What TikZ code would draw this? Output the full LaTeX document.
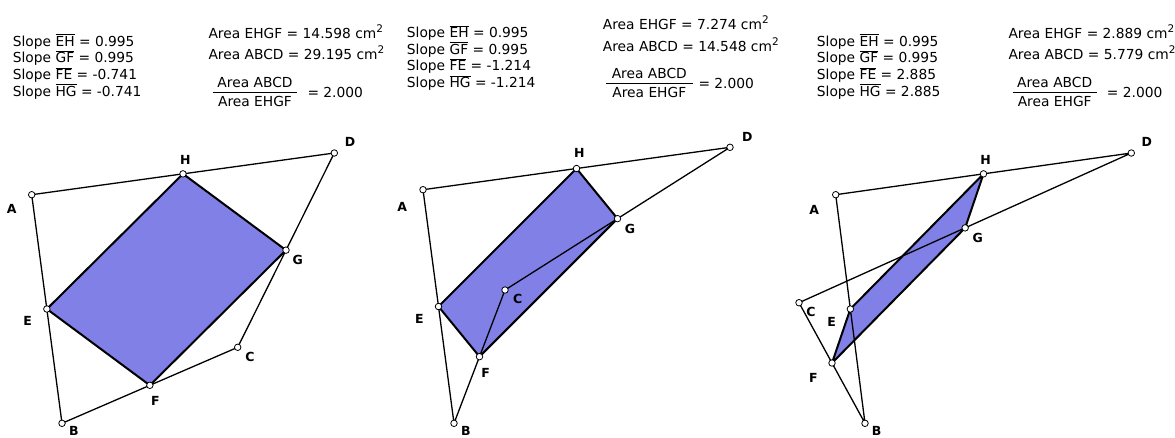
\documentclass[tikz,border=0pt]{standalone}
\usepackage{fontspec}
\setmainfont{DejaVu Sans}
\usetikzlibrary{calc}
\definecolor{pfillc}{RGB}{128,128,230}
\newcommand{\quadfig}[1]{%
  \coordinate (#1E) at ($(#1A)!0.5!(#1B)$);
  \coordinate (#1F) at ($(#1B)!0.5!(#1C)$);
  \coordinate (#1G) at ($(#1C)!0.5!(#1D)$);
  \coordinate (#1H) at ($(#1D)!0.5!(#1A)$);
  \fill[pfill] (#1E) -- (#1H) -- (#1G) -- (#1F) -- cycle;
  \draw[paraline] (#1E) -- (#1H) -- (#1G) -- (#1F) -- cycle;
  \draw[quadline] (#1A) -- (#1B) -- (#1C) -- (#1D) -- cycle;
  \foreach \p in {A,B,C,D,E,F,G,H}{\node[pt] (#1\p pt) at (#1\p) {};}
}
\newcommand{\sg}[1]{$\overline{\mbox{#1}}$}
\newcommand{\sqr}{\raisebox{0.42em}{\fontsize{10.5}{11}\selectfont 2}}
\begin{document}
\begin{tikzpicture}[x=1pt,y=-1pt,
 txt/.style={inner sep=0,anchor=base west,font=\fontsize{13.8}{16}\selectfont},
 ctxt/.style={inner sep=0,anchor=base,font=\fontsize{13.8}{16}\selectfont},
 lbl/.style={inner sep=0,font=\fontsize{12.5}{13}\selectfont\bfseries},
 pt/.style={circle,draw,fill=white,inner sep=0,minimum size=6.5pt,line width=0.8pt},
 quadline/.style={line width=1.3pt,line join=round},
 paraline/.style={line width=2pt,line join=round},
 pfill/.style={fill=pfillc},
 fbar/.style={line width=0.8pt}]
\useasboundingbox (0,0) rectangle (1175,437);

% ---------- figure 1 ----------
\coordinate (aA) at (31.7,194.7);
\coordinate (aB) at (62,423.3);
\coordinate (aC) at (237.7,347.3);
\coordinate (aD) at (334.3,153);
\quadfig{a}
\node[lbl] (aAl) at (11.7,209.3) {A};
\node[lbl] (aBl) at (74,430.5) {B};
\node[lbl] (aCl) at (250,356.7) {C};
\node[lbl] (aDl) at (350,142.3) {D};
\node[lbl] (aEl) at (27.7,321) {E};
\node[lbl] (aFl) at (155.3,401) {F};
\node[lbl] (aGl) at (297.7,260) {G};
\node[lbl] (aHl) at (185.3,160) {H};

% ---------- figure 2 ----------
\coordinate (bA) at (423,189.7);
\coordinate (bB) at (454,423.3);
\coordinate (bC) at (505,290);
\coordinate (bD) at (730,147.3);
\quadfig{b}
\node[lbl] (bAl) at (402.3,206.7) {A};
\node[lbl] (bBl) at (466,430.5) {B};
\node[lbl] (bCl) at (517.7,299.3) {C};
\node[lbl] (bDl) at (747.3,136.7) {D};
\node[lbl] (bEl) at (419.3,319) {E};
\node[lbl] (bFl) at (485.7,372.7) {F};
\node[lbl] (bGl) at (630,229) {G};
\node[lbl] (bHl) at (579.3,153.3) {H};

% ---------- figure 3 ----------
\coordinate (cA) at (835.7,194.7);
\coordinate (cB) at (865,423.3);
\coordinate (cC) at (799,302.7);
\coordinate (cD) at (1131.3,153);
\quadfig{c}
\node[lbl] (cAl) at (814.3,210) {A};
\node[lbl] (cBl) at (876.7,430.5) {B};
\node[lbl] (cCl) at (811,312.3) {C};
\node[lbl] (cDl) at (1146.7,142.3) {D};
\node[lbl] (cEl) at (831.7,321.7) {E};
\node[lbl] (cFl) at (813.3,378.3) {F};
\node[lbl] (cGl) at (977.7,237.7) {G};
\node[lbl] (cHl) at (985.7,160) {H};

% ---------- text block 1 ----------
\node[txt] (s1a) at (12.7,46) {Slope \sg{EH} = 0.995};
\node[txt] (s1b) at (12.7,62.7) {Slope \sg{GF} = 0.995};
\node[txt] (s1c) at (12.7,79.4) {Slope \sg{FE} = -0.741};
\node[txt] (s1d) at (12.7,96.1) {Slope \sg{HG} = -0.741};
\node[txt] (a1a) at (208.3,38) {Area EHGF = 14.598 cm\sqr};
\node[txt] (a1b) at (208.3,59.5) {Area ABCD = 29.195 cm\sqr};
\draw[fbar] (212.7,92.5) -- (297.3,92.5);
\node[ctxt] (n1) at (255,87.5) {Area ABCD};
\node[ctxt] (d1) at (255,106.5) {Area EHGF};
\node[txt] (r1) at (307.3,97) {= 2.000};

% ---------- text block 2 ----------
\node[txt] (s2a) at (406.7,37.5) {Slope \sg{EH} = 0.995};
\node[txt] (s2b) at (406.7,54.2) {Slope \sg{GF} = 0.995};
\node[txt] (s2c) at (406.7,70.9) {Slope \sg{FE} = -1.214};
\node[txt] (s2d) at (406.7,87.6) {Slope \sg{HG} = -1.214};
\node[txt] (a2a) at (602.7,29) {Area EHGF = 7.274 cm\sqr};
\node[txt] (a2b) at (602.7,51) {Area ABCD = 14.548 cm\sqr};
\draw[fbar] (606,83) -- (692.7,83);
\node[ctxt] (n2) at (649.3,78.5) {Area ABCD};
\node[ctxt] (d2) at (649.3,97) {Area EHGF};
\node[txt] (r2) at (698.3,88.5) {= 2.000};

% ---------- text block 3 ----------
\node[txt] (s3a) at (816.7,46) {Slope \sg{EH} = 0.995};
\node[txt] (s3b) at (816.7,62.7) {Slope \sg{GF} = 0.995};
\node[txt] (s3c) at (816.7,79.4) {Slope \sg{FE} = 2.885};
\node[txt] (s3d) at (816.7,96.1) {Slope \sg{HG} = 2.885};
\node[txt] (a3a) at (1008.3,38) {Area EHGF = 2.889 cm\sqr};
\node[txt] (a3b) at (1008.3,59.5) {Area ABCD = 5.779 cm\sqr};
\draw[fbar] (1012.7,92.5) -- (1096.7,92.5);
\node[ctxt] (n3) at (1054.7,87.5) {Area ABCD};
\node[ctxt] (d3) at (1054.7,106.5) {Area EHGF};
\node[txt] (r3) at (1106.7,97) {= 2.000};
\end{tikzpicture}
\end{document}
